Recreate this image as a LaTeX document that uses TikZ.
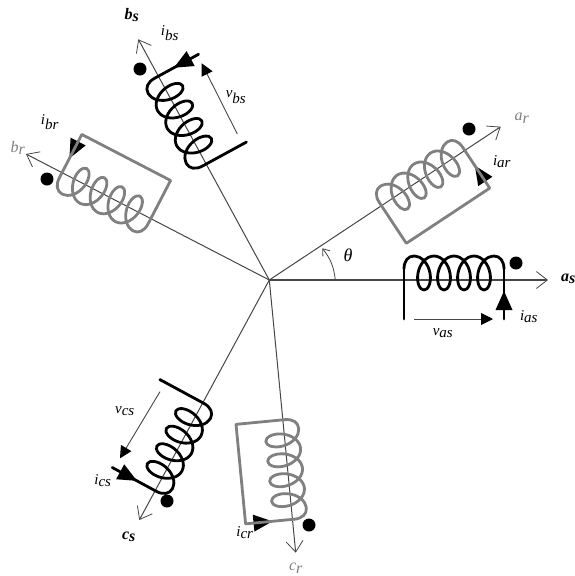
\documentclass[tikz,border=0pt]{standalone}
\usepackage{fontspec}
\setmainfont{Liberation Serif}
\usetikzlibrary{arrows.meta}
\definecolor{coilgray}{RGB}{128,128,128}
\definecolor{axisgray}{RGB}{70,70,70}
\newcommand{\sublab}[2]{\textit{#1}$_{\textit{#2}}$}
\newcommand{\boldlab}[2]{\textbf{\textit{#1}}$_{\textbf{\textit{#2}}}$}
\newcommand{\coilturns}{
    \draw[coilline] (-50,-4) .. controls (-50,-12) and (-46,-17) .. (-40,-17)
        -- plot[domain=0:1440, samples=65, smooth, variable=\t] ({-40+\t/18+11*sin(\t)},{-17*cos(\t)})
        .. controls (46,-17) and (50,-12) .. (50,-4);
    \fill[black] (50,18) -- (58.5,37) -- (41.5,37) -- cycle;
}
\tikzset{
    axisline/.style={draw=axisgray, line width=1pt, -{Straight Barb[length=11pt,width=17pt,line width=0.8pt]}},
    volt/.style={draw=axisgray, line width=0.9pt, -{Triangle[length=12pt,width=12pt,color=black]}},
    coilline/.style={line width=2.8pt, line join=round, line cap=round},
    lab/.style={inner sep=0pt, font=\fontsize{15}{15}\selectfont},
    blab/.style={inner sep=0pt, font=\fontsize{16}{16}\selectfont},
    dot/.style={circle, fill=black, inner sep=0pt, minimum size=13pt},
    blackcoil/.pic={
        \coilturns
        \draw[coilline] (-50,-4) -- (-50,46) (50,-4) -- (50,46);
    },
    graycoil/.pic={
        \coilturns
        \draw[coilline] (-50,-4) -- (-50,45) -- (50,45) -- (50,-4);
    },
}
\begin{document}
\begin{tikzpicture}[x=1pt, y=-1pt]
    \useasboundingbox (0,0) rectangle (574,576);

    % Axes
    \coordinate (O) at (269.3,280);
    \coordinate (astip) at (548,280);
    \coordinate (artip) at (500.7,126.7);
    \coordinate (bstip) at (138.3,39.3);
    \coordinate (brtip) at (26,154);
    \coordinate (cstip) at (139.3,520);
    \coordinate (crtip) at (295.7,552.7);
    \draw[axisline, line width=1.5pt] (O) -- (astip);
    \foreach \tip in {artip,bstip,brtip,cstip,crtip}
        \draw[axisline] (O) -- (\tip);

    % Stator coils
    \pic[rotate=0] (coilas) at (454,273) {blackcoil};
    \pic[rotate=118.6] (coilbs) at (182.1,120.2) {blackcoil};
    \pic[rotate=241.6] (coilcs) at (176.5,445.4) {blackcoil};

    % Rotor coils
    \pic[color=coilgray, rotate=33.5] (coilar) at (423.2,178.2) {graycoil};
    \pic[color=coilgray, rotate=152.6] (coilbr) at (105.5,197.4) {graycoil};
    \pic[color=coilgray, rotate=275.5] (coilcr) at (285.6,469.8) {graycoil};

    % Voltages
    \coordinate (vas1) at (414.3,319);
    \coordinate (vas2) at (493,319);
    \draw[volt] (vas1) -- (vas2);
    \coordinate (vbs1) at (237.3,134);
    \coordinate (vbs2) at (201.7,63.3);
    \draw[volt] (vbs1) -- (vbs2);
    \coordinate (vcs1) at (160,391.7);
    \coordinate (vcs2) at (120,458.3);
    \draw[volt] (vcs1) -- (vcs2);

    % Angle
    \coordinate (thetastart) at (335.3,280);
    \coordinate (thetaend) at (322.3,248.3);
    \draw[draw=axisgray, line width=0.8pt, -{Straight Barb[length=6pt,width=9pt]}] (thetastart) to[bend right=16] (thetaend);
    \node[font=\fontsize{18}{18}\selectfont\itshape] (theta) at (348,255) {θ};

    % Polarity dots
    \node[dot] (dotas) at (516,263) {};
    \node[dot] (dotar) at (469,129) {};
    \node[dot] (dotbs) at (140,69) {};
    \node[dot] (dotbr) at (47,179) {};
    \node[dot] (dotcs) at (167,501) {};
    \node[dot] (dotcr) at (309,525) {};

    % Labels
    \node[blab, anchor=west] (las) at (561,279) {\boldlab{a}{s}};
    \node[blab] (lbs) at (132,15) {\boldlab{b}{s}};
    \node[blab] (lcs) at (129,537) {\boldlab{c}{s}};
    \node[blab, text=coilgray] (lar) at (522,118) {\sublab{a}{r}};
    \node[blab, text=coilgray] (lbr) at (18,148) {\sublab{b}{r}};
    \node[blab, text=coilgray] (lcr) at (296,568) {\sublab{c}{r}};
    \node[lab] (ias) at (529,317) {\sublab{i}{as}};
    \node[lab] (iar) at (502,162) {\sublab{i}{ar}};
    \node[lab] (ibs) at (170,33) {\sublab{i}{bs}};
    \node[lab] (ibr) at (50,122) {\sublab{i}{br}};
    \node[lab] (ics) at (103,481) {\sublab{i}{cs}};
    \node[lab] (icr) at (245,533) {\sublab{i}{cr}};
    \node[lab] (vas) at (443,333) {\sublab{v}{as}};
    \node[lab] (vbs) at (236,97) {\sublab{v}{bs}};
    \node[lab] (vcs) at (125,411) {\sublab{v}{cs}};
\end{tikzpicture}
\end{document}
